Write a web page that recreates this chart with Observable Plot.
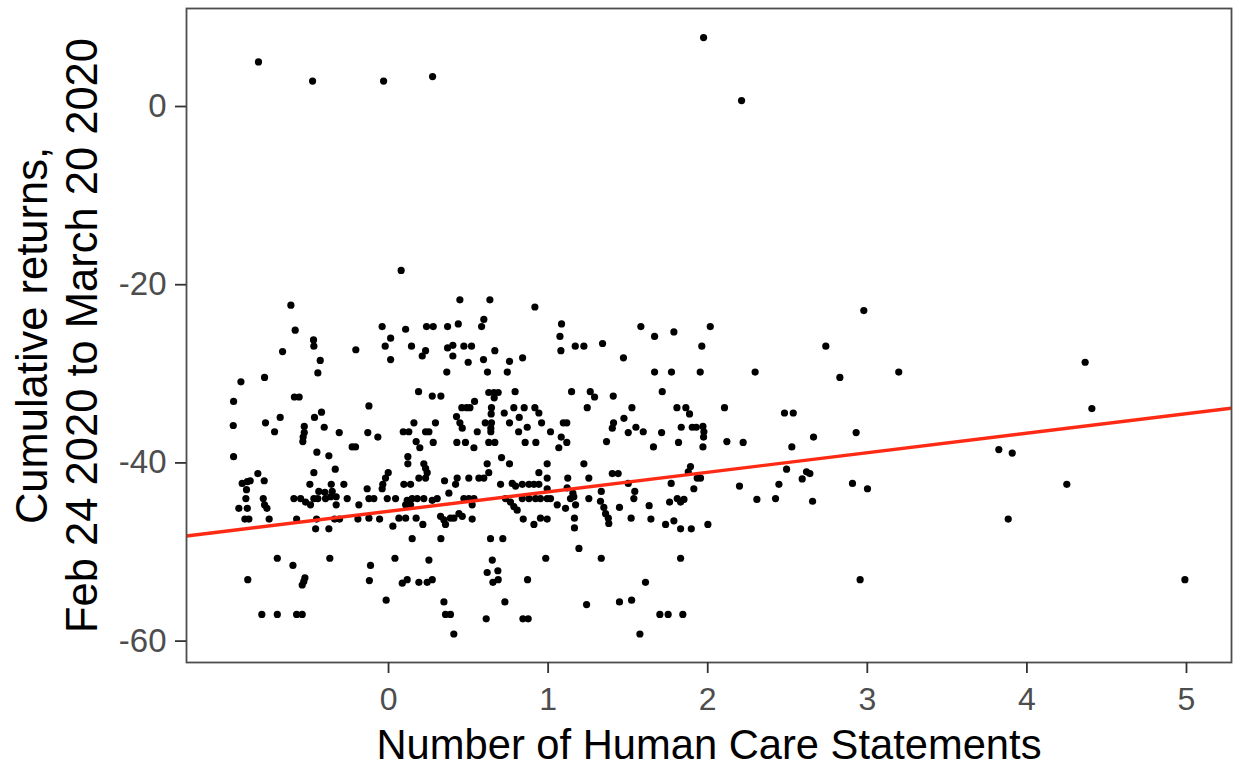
<!DOCTYPE html>
<html>
<head>
<meta charset="utf-8">
<script src="https://cdn.jsdelivr.net/npm/d3@7"></script>
<script src="https://cdn.jsdelivr.net/npm/@observablehq/plot@0.6"></script>
<style>
  html, body { margin: 0; padding: 0; background: #fff; overflow: hidden; }
</style>
</head>
<body>
<div id="chart"></div>
<script>
// [human care statements, cumulative return %]
const blockNegUpper = [
  [-0.612,-22.3],[-0.585,-25.1],[-0.470,-26.2],[-0.468,-26.9],[-0.664,-27.5],[-0.205,-27.3],[-0.428,-28.5],[-0.443,-29.9],[-0.925,-30.9],[-0.777,-30.4],
  [-0.590,-32.6],[-0.560,-32.6],[-0.971,-33.1],[-0.420,-34.3],[-0.464,-34.9],[-0.679,-34.9],[-0.973,-35.8],[-0.771,-35.5],[-0.714,-36.5],[-0.528,-35.9],
  [-0.528,-36.6],[-0.535,-37.1],[-0.537,-37.6],[-0.403,-36.0],[-0.309,-36.6],[-0.228,-38.2],[-0.207,-38.2],[-0.449,-38.8],[-0.374,-39.2],[-0.971,-39.3]
];
const blockZeroUpper = [
  [0.079,-18.4],[0.447,-21.7],[0.635,-21.7],[0.917,-22.5],[-0.040,-24.7],[0.107,-25.0],[0.238,-24.7],[0.280,-24.7],[0.370,-24.7],[0.437,-24.4],
  [0.597,-23.9],[0.583,-24.7],[0.013,-26.0],[-0.021,-26.9],[0.144,-26.9],[0.232,-27.4],[0.211,-28.0],[0.370,-27.1],[0.403,-26.8],[0.403,-28.0],
  [0.472,-26.9],[0.520,-26.9],[0.666,-27.4],[0.013,-28.4],[0.499,-28.7],[0.595,-28.4],[0.758,-28.6],[0.840,-28.2],[0.365,-29.8],[0.620,-29.8],
  [0.744,-29.8],[0.188,-32.0],[0.274,-32.5],[0.328,-32.5],[0.628,-32.1],[0.660,-32.1],[0.687,-32.1],[0.662,-32.7],[0.793,-32.0],[-0.123,-33.6],
  [0.459,-33.8],[0.489,-33.8],[0.510,-33.8],[0.539,-33.1],[0.645,-33.8],[0.785,-33.8],[0.850,-33.8],[0.917,-33.8],[0.942,-34.4],[0.643,-34.5],
  [0.725,-34.4],[0.819,-34.9],[0.426,-34.8],[0.447,-35.5],[0.462,-36.1],[0.159,-35.5],[0.294,-35.5],[0.606,-35.5],[0.645,-35.5],[0.758,-35.5],
  [0.959,-35.5],[-0.130,-36.6],[-0.067,-37.1],[0.092,-36.5],[0.127,-36.5],[0.232,-36.5],[0.253,-36.5],[0.556,-36.5],[0.641,-36.5],[0.641,-36.1],
  [0.815,-36.5],[0.869,-36.0],[0.173,-37.6],[0.196,-38.3],[0.280,-37.7],[0.428,-37.7],[0.482,-37.7],[0.535,-38.3],[0.628,-37.7],[0.666,-37.7],
  [0.856,-37.7],[0.923,-37.7],[0.121,-39.3],[0.708,-39.4]
];
const blockOneUpper = [
  [1.084,-24.4],[1.074,-25.8],[1.080,-27.4],[1.170,-26.9],[1.224,-26.9],[1.341,-26.6],[1.472,-28.2],[1.581,-24.7],[1.667,-25.8],[1.788,-25.3],
  [2.016,-24.7],[1.963,-26.9],[1.667,-29.8],[1.773,-29.8],[1.953,-29.8],[1.147,-32.0],[1.264,-32.0],[1.291,-32.6],[1.408,-32.5],[1.715,-32.0],
  [1.245,-33.8],[1.525,-33.8],[1.807,-33.8],[1.863,-33.8],[1.886,-34.5],[2.105,-33.8],[1.015,-36.5],[1.095,-35.5],[1.117,-35.5],[1.082,-37.1],
  [1.117,-37.7],[1.067,-38.3],[1.366,-37.6],[1.410,-35.5],[1.402,-36.1],[1.475,-35.0],[1.502,-36.6],[1.550,-36.0],[1.596,-36.5],[1.711,-36.6],
  [1.660,-38.2],[1.834,-36.0],[1.817,-37.7],[1.903,-36.0],[1.928,-36.0],[1.970,-35.9],[1.976,-36.5],[1.974,-37.1],[1.970,-38.2],[2.120,-37.6]
];
const blockNegLower = [
  [-0.819,-41.2],[-0.917,-42.3],[-0.885,-42.1],[-0.867,-42.0],[-0.890,-43.0],[-0.779,-42.0],[-0.894,-44.0],[-0.785,-44.0],[-0.938,-45.1],[-0.885,-45.1],
  [-0.777,-44.7],[-0.762,-45.1],[-0.900,-46.3],[-0.875,-46.3],[-0.748,-46.3],[-0.468,-41.1],[-0.334,-40.7],[-0.493,-42.4],[-0.359,-42.4],[-0.280,-42.4],
  [-0.437,-43.2],[-0.399,-43.3],[-0.353,-43.2],[-0.593,-44.0],[-0.551,-44.0],[-0.520,-44.4],[-0.489,-44.7],[-0.468,-44.0],[-0.443,-44.0],[-0.395,-44.0],
  [-0.363,-43.8],[-0.328,-43.8],[-0.328,-44.7],[-0.259,-44.0],[-0.186,-44.7],[-0.576,-46.3],[-0.451,-46.3],[-0.457,-47.4],[-0.374,-47.4],[-0.338,-46.3],
  [-0.307,-46.3],[-0.192,-46.3],[-0.697,-50.7],[-0.599,-51.5],[-0.368,-50.7],[-0.882,-53.1],[-0.524,-52.9],[-0.531,-53.3],[-0.541,-53.7],[-0.794,-57.0],
  [-0.697,-57.0],[-0.576,-57.0],[-0.541,-57.0]
];
const blockZeroLower = [
  [0.121,-40.1],[0.221,-40.1],[0.232,-40.6],[0.242,-41.1],[0.190,-41.7],[0.232,-41.7],[-0.002,-41.1],[-0.019,-41.7],[-0.036,-42.4],[-0.040,-42.9],
  [-0.134,-42.9],[0.096,-42.4],[0.138,-42.4],[0.351,-42.0],[0.430,-41.7],[0.420,-42.4],[0.503,-41.7],[0.566,-41.7],[0.597,-41.7],[0.618,-40.1],
  [0.628,-41.1],[0.758,-40.1],[0.702,-42.4],[0.775,-42.3],[0.796,-42.6],[0.838,-42.4],[0.880,-42.4],[0.911,-42.4],[0.942,-42.4],[0.942,-41.1],
  [-0.123,-44.0],[-0.092,-44.0],[-0.008,-44.0],[0.044,-44.0],[0.117,-44.2],[0.148,-44.0],[0.180,-44.0],[0.221,-44.0],[0.107,-44.7],[0.138,-44.7],
  [0.274,-44.2],[0.305,-44.0],[0.378,-43.4],[0.472,-44.0],[0.503,-44.0],[0.535,-44.0],[0.524,-44.7],[0.733,-44.0],[0.764,-44.4],[0.785,-44.9],
  [0.806,-45.3],[0.838,-44.0],[0.880,-44.0],[0.921,-44.0],[0.952,-44.0],[-0.123,-46.2],[-0.056,-46.3],[0.027,-47.1],[0.065,-46.2],[0.107,-46.2],
  [0.173,-46.2],[0.215,-46.9],[0.326,-46.0],[0.347,-46.4],[0.357,-46.9],[0.388,-46.2],[0.409,-46.2],[0.441,-45.7],[0.462,-46.0],[0.524,-46.3],
  [0.844,-46.3],[0.911,-46.9],[0.952,-46.2],[0.148,-48.5],[0.328,-48.5],[0.639,-48.5],[0.716,-48.5],[-0.113,-51.5],[0.040,-50.7],[0.253,-50.9],
  [0.650,-50.9],[0.685,-52.1],[0.618,-52.3],[0.654,-53.4],[0.687,-53.1],[-0.120,-53.2],[0.086,-53.5],[0.117,-53.1],[0.190,-53.4],[0.242,-53.4],
  [0.274,-53.1],[0.871,-53.1],[-0.015,-55.4],[0.347,-55.6],[0.357,-57.0],[0.388,-57.0],[0.729,-55.6],[0.612,-57.5],[0.842,-57.5],[0.875,-57.5],
  [0.409,-59.2]
];
const blockOneLower = [
  [0.994,-40.1],[1.224,-40.1],[1.402,-41.2],[1.439,-41.2],[0.994,-41.7],[1.123,-41.7],[1.255,-41.7],[0.994,-42.9],[1.119,-42.8],[1.155,-43.4],
  [0.994,-44.0],[1.015,-44.0],[1.057,-44.7],[1.109,-45.1],[1.140,-44.0],[1.161,-43.8],[1.172,-44.7],[1.255,-44.0],[1.333,-43.2],[1.328,-44.3],
  [1.349,-45.0],[1.360,-45.7],[1.377,-46.2],[1.380,-46.8],[1.447,-45.0],[1.502,-42.3],[1.543,-43.2],[1.537,-44.0],[0.994,-46.3],[1.165,-46.2],
  [1.165,-47.3],[1.520,-46.2],[1.633,-44.8],[1.644,-46.3],[1.771,-42.3],[1.761,-44.4],[1.809,-44.0],[1.830,-44.4],[1.851,-44.1],[1.736,-46.9],
  [1.788,-46.5],[1.830,-47.4],[1.897,-47.4],[2.001,-46.9],[1.913,-42.9],[1.892,-40.4],[1.878,-41.0],[1.934,-41.7],[1.955,-41.7],[1.193,-49.6],
  [0.985,-50.7],[1.333,-50.7],[1.830,-50.7],[1.610,-53.4],[1.241,-55.9],[1.447,-55.6],[1.523,-55.4],[1.700,-57.0],[1.752,-57.0],[1.844,-57.0],
  [1.575,-59.2]
];
const blockTwoThree = [
  [2.978,-22.9],[2.740,-26.9],[2.297,-29.8],[2.828,-30.4],[3.197,-29.8],[2.481,-34.4],[2.536,-34.4],[2.222,-37.7],[2.527,-38.2],[2.663,-37.1],
  [2.930,-36.6],[3.824,-38.5],[2.494,-40.7],[2.619,-41.0],[2.640,-41.2],[2.592,-41.8],[2.446,-42.4],[2.199,-42.6],[2.907,-42.3],[3.001,-42.9],
  [2.308,-44.1],[2.425,-44.0],[2.657,-44.3],[2.955,-53.1]
];
const blockFourFive = [
  [4.365,-28.7],[4.407,-33.9],[3.908,-38.9],[4.250,-42.4],[3.883,-46.3],[4.990,-53.1]
];
const blockPositive = [
  [-0.815,5.0],[-0.476,2.85],[-0.031,2.85],[0.276,3.36],[1.974,7.74],[2.212,0.67]
];

const xTicks = [0, 1, 2, 3, 4, 5];
const yTicks = [0, -20, -40, -60];
const xDomain = [-1.266, 5.282];
const yDomain = [-62.4, 11.0];
// fitted linear trend
const fitIntercept = -45.43;
const fitSlope = 2.19;

const xTitle = "Number of Human Care Statements";
const yTitle1 = "Cumulative returns,";
const yTitle2 = "Feb 24 2020 to March 20 2020";

const points = [
  ...blockNegUpper, ...blockZeroUpper, ...blockOneUpper,
  ...blockNegLower, ...blockZeroLower, ...blockOneLower,
  ...blockTwoThree, ...blockFourFive, ...blockPositive
].map(([care, ret]) => ({care, ret}));

const fitLine = xDomain.map(x => ({x, y: fitIntercept + fitSlope * x}));

const font = "'Liberation Sans', Arial, Helvetica, sans-serif";

const chart = Plot.plot({
  width: 1233,
  height: 766,
  marginLeft: 186,
  marginRight: 2,
  marginTop: 8,
  marginBottom: 104,
  style: {fontFamily: font, background: "#fff", overflow: "visible"},
  x: {domain: xDomain},
  y: {domain: yDomain},
  marks: [
    Plot.dot(points, {x: "care", y: "ret", r: 3.6, fill: "#000", stroke: "none"}),
    Plot.line(fitLine, {x: "x", y: "y", stroke: "#ff2a14", strokeWidth: 3.4, clip: true}),
    Plot.frame({stroke: "#4d4d4d", strokeWidth: 1.8}),
    Plot.axisX({ticks: xTicks, tickSize: 11, tickPadding: 14, fontSize: 32,
      stroke: "#333", strokeWidth: 1.8, fill: "#4d4d4d", tickFormat: d => String(d), label: null}),
    Plot.axisY({ticks: yTicks, tickSize: 11, tickPadding: 9, fontSize: 33,
      stroke: "#333", strokeWidth: 1.8, fill: "#4d4d4d", tickFormat: d => String(d), label: null}),
    Plot.text([xTitle], {frameAnchor: "bottom", dy: 96, lineAnchor: "bottom", textAnchor: "middle", fontSize: 41.7, fill: "#000"}),
    Plot.text([yTitle1], {frameAnchor: "left", dx: -140, rotate: -90, lineAnchor: "bottom", textAnchor: "middle", fontSize: 43.5, fill: "#000"}),
    Plot.text([yTitle2], {frameAnchor: "left", dx: -90, rotate: -90, lineAnchor: "bottom", textAnchor: "middle", fontSize: 43.5, fill: "#000"})
  ]
});
document.getElementById("chart").appendChild(chart);
</script>
</body>
</html>
